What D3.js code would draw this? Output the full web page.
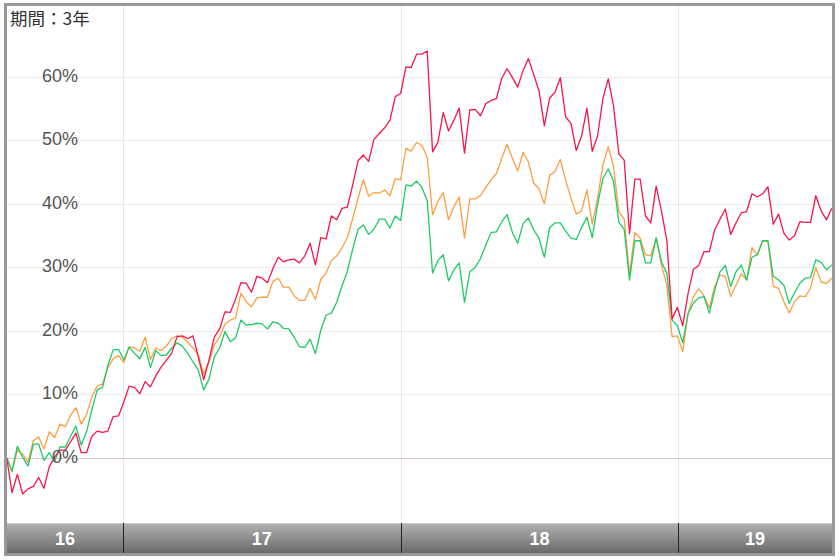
<!DOCTYPE html>
<html><head><meta charset="utf-8">
<script src="https://cdn.jsdelivr.net/npm/d3@7"></script>
<style>html,body{margin:0;padding:0;background:#fff;}svg{display:block;}</style>
</head><body>
<svg id="c" width="840" height="560"></svg>
<script>
// ---- data (weekly, 3 years) ----
const startDate = new Date(2016, 7, 1);
const periodLabel = "期間：3年";
const yearLabels = ["16", "17", "18", "19"];
const yTicks = [0, 10, 20, 30, 40, 50, 60];
const seriesRed = [0.0,-5.5,-2.6,-5.7,-4.9,-4.5,-3.1,-4.8,-1.4,0.1,
1.2,1.2,2.5,3.9,0.8,0.8,3.4,4.2,4.0,4.2,
6.5,6.6,8.8,11.3,11.1,10.1,12.0,11.2,12.9,14.3,
15.4,16.5,19.1,19.2,18.8,19.2,15.9,12.3,15.4,19.0,
20.3,23.0,22.9,25.0,27.6,27.5,26.1,28.6,28.3,27.6,
29.8,31.6,30.9,31.2,31.3,30.7,31.8,33.8,30.4,34.7,
34.5,38.1,37.5,39.3,39.5,43.0,46.8,47.7,46.7,50.2,
51.1,52.0,53.2,56.9,57.4,61.6,61.5,63.6,63.6,64.1,
48.2,49.7,54.4,51.5,53.2,55.1,48.0,54.8,54.9,53.9,
55.8,56.3,56.6,59.8,61.3,59.9,58.4,61.0,62.9,60.4,
57.8,52.3,56.7,57.6,59.9,53.7,52.7,48.4,50.7,55.1,
48.3,50.7,56.6,59.7,55.4,47.9,46.9,35.3,43.9,43.9,
38.1,37.0,42.8,38.9,34.3,21.9,23.7,20.8,25.9,29.7,
30.3,32.5,32.5,35.9,37.6,39.2,35.2,37.0,38.6,38.8,
41.6,41.1,41.6,42.7,36.8,38.4,35.4,34.3,35.0,37.2,
37.1,37.1,41.3,38.9,37.5,39.3];
const seriesOrange = [0.0,-2.2,1.2,0.6,-0.7,2.7,3.3,1.4,4.1,3.2,
5.3,4.9,6.7,7.9,5.3,6.8,9.6,11.3,11.6,14.2,
15.6,16.1,15.0,17.5,17.3,16.8,19.0,15.5,17.3,16.9,
17.6,18.8,19.2,19.0,18.2,17.3,16.2,13.2,15.1,17.8,
19.0,21.1,21.7,22.0,25.9,24.6,23.8,25.2,25.3,25.3,
27.8,28.3,26.9,26.9,25.5,24.8,24.8,26.7,24.9,28.1,
29.1,31.1,31.8,33.1,34.7,37.7,40.9,43.8,41.2,41.8,
41.7,42.2,41.3,44.0,43.8,48.8,48.3,49.7,49.2,47.3,
38.3,40.4,41.8,37.5,39.5,41.1,34.6,40.8,40.8,41.3,
42.6,43.8,44.8,47.2,49.4,47.2,45.2,48.1,46.6,43.3,
42.4,40.0,44.5,45.1,47.0,43.8,40.9,38.4,38.9,42.2,
36.8,40.9,46.1,49.0,45.9,38.8,37.6,28.9,35.5,34.6,
32.0,31.8,34.6,30.4,27.2,19.1,19.2,16.7,22.8,25.4,
26.6,25.5,23.6,27.0,28.8,28.6,25.4,27.2,29.0,28.0,
33.1,32.0,34.1,34.2,27.0,26.7,24.6,22.8,24.6,25.5,
25.4,26.7,30.0,27.7,27.5,28.3];
const seriesGreen = [0.0,-2.1,1.8,0.1,-1.3,2.1,2.2,-0.4,0.8,-0.6,
1.7,1.7,3.4,5.0,2.0,4.1,7.6,10.7,11.1,14.5,
17.0,17.1,15.4,17.4,16.5,15.6,17.4,14.2,16.9,16.1,
16.2,17.3,18.1,17.6,16.5,15.1,13.8,10.7,12.4,15.9,
17.3,19.9,18.3,18.9,21.7,20.9,21.0,21.2,21.1,20.3,
21.4,21.2,20.4,20.3,19.0,17.5,17.4,18.7,16.4,20.1,
22.5,22.8,24.5,27.1,29.4,32.9,36.0,36.7,35.2,36.0,
37.6,37.6,36.2,38.1,37.4,43.0,42.8,43.6,42.6,40.5,
29.1,31.1,32.0,27.9,29.6,30.7,24.5,29.3,30.0,31.4,
33.5,35.5,35.6,37.2,38.3,35.5,33.8,36.9,37.8,35.9,
34.6,31.6,36.3,37.0,37.0,35.7,34.6,34.4,36.3,37.9,
34.7,39.9,44.0,45.5,43.6,37.1,36.0,28.0,34.2,34.2,
30.7,30.7,34.7,30.9,29.1,21.7,20.8,18.1,22.7,24.4,
25.2,25.4,22.8,26.4,29.3,30.3,27.0,29.3,30.4,28.0,
31.6,32.0,34.2,34.2,28.6,28.0,27.2,24.3,26.0,27.5,
28.3,28.4,31.2,30.8,29.6,30.4];

const dates = seriesRed.map((_, i) => d3.timeWeek.offset(startDate, i));
const series = [
  {name: "orange", values: seriesOrange, color: "#fd9f42"},
  {name: "green", values: seriesGreen, color: "#1fca68"},
  {name: "red", values: seriesRed, color: "#f5174b"}
];

// ---- layout ----
const svg = d3.select("#c");
const plotL = 7, plotR = 832, plotT = 6, plotB = 523;
const bandT = 523, bandB = 553;

const x = d3.scaleTime().domain([dates[0], dates[dates.length - 1]]).range([6.7, 831.8]);
const y = d3.scaleLinear().domain([0, 60]).range([457.8, 77]);

svg.append("rect").attr("width", 840).attr("height", 560).attr("fill", "#fff");

const defs = svg.append("defs");
const grad = defs.append("linearGradient").attr("id", "band").attr("x1", 0).attr("y1", 0).attr("x2", 0).attr("y2", 1);
grad.append("stop").attr("offset", "0%").attr("stop-color", "#b2b2b2");
grad.append("stop").attr("offset", "100%").attr("stop-color", "#6a6a6a");
defs.append("clipPath").attr("id", "plotclip").append("rect")
  .attr("x", plotL).attr("y", plotT).attr("width", plotR - plotL).attr("height", plotB - plotT);

// year boundaries
const yearStarts = d3.timeYear.range(d3.timeYear.ceil(dates[0]), dates[dates.length - 1]);
const bounds = [plotL, ...yearStarts.map(d => x(d)), plotR];

// horizontal grid
svg.append("g").selectAll("line").data(yTicks.filter(t => t !== 0)).join("line")
  .attr("x1", plotL).attr("x2", plotR)
  .attr("y1", d => Math.round(y(d)) + 0.5).attr("y2", d => Math.round(y(d)) + 0.5)
  .attr("stroke", "#ececec").attr("stroke-width", 1);
// vertical grid
svg.append("g").selectAll("line").data(yearStarts).join("line")
  .attr("x1", d => Math.round(x(d)) + 0.5).attr("x2", d => Math.round(x(d)) + 0.5)
  .attr("y1", plotT).attr("y2", plotB)
  .attr("stroke", "#e8e8e8").attr("stroke-width", 1);
// zero line
svg.append("line").attr("x1", plotL).attr("x2", plotR)
  .attr("y1", Math.round(y(0)) + 0.5).attr("y2", Math.round(y(0)) + 0.5)
  .attr("stroke", "#dcc6c8").attr("stroke-width", 1);

// lines
const line = d3.line().x((d, i) => x(dates[i])).y(d => y(d));
const lg = svg.append("g").attr("clip-path", "url(#plotclip)");
series.forEach(s => {
  lg.append("path").datum(s.values).attr("d", line)
    .attr("fill", "none").attr("stroke", s.color).attr("stroke-width", 1.3)
    .attr("stroke-linejoin", "round");
});

// y labels
svg.append("g").selectAll("text").data(yTicks).join("text")
  .attr("x", 78).attr("y", d => y(d) + 5)
  .attr("text-anchor", "end")
  .attr("font-family", "'Liberation Sans', Arial, sans-serif")
  .attr("font-size", 18).attr("fill", "#555")
  .text(d => d + "%");

// period label
svg.append("text").attr("x", 10).attr("y", 25)
  .attr("font-family", "'Noto Sans CJK JP', sans-serif")
  .attr("font-size", 17.5).attr("fill", "#333")
  .text(periodLabel);

// bottom band
svg.append("rect").attr("x", plotL).attr("y", bandT).attr("width", plotR - plotL).attr("height", bandB - bandT)
  .attr("fill", "url(#band)");
svg.append("line").attr("x1", plotL).attr("x2", plotR).attr("y1", bandT + 0.5).attr("y2", bandT + 0.5)
  .attr("stroke", "#c8c8c8");
svg.append("g").selectAll("line").data(yearStarts).join("line")
  .attr("x1", d => Math.round(x(d)) + 0.5).attr("x2", d => Math.round(x(d)) + 0.5)
  .attr("y1", bandT).attr("y2", bandB)
  .attr("stroke", "#222").attr("stroke-width", 1);
svg.append("g").selectAll("text").data(yearLabels).join("text")
  .attr("x", (d, i) => (bounds[i] + bounds[i + 1]) / 2)
  .attr("y", 545)
  .attr("text-anchor", "middle")
  .attr("font-family", "'Liberation Sans', Arial, sans-serif")
  .attr("font-weight", "bold").attr("font-size", 18).attr("fill", "#fff")
  .text(d => d);

// frame
svg.append("rect").attr("x", 5.5).attr("y", 4.5).attr("width", 828).attr("height", 550)
  .attr("fill", "none").attr("stroke", "#999").attr("stroke-width", 3);
</script>
</body></html>
